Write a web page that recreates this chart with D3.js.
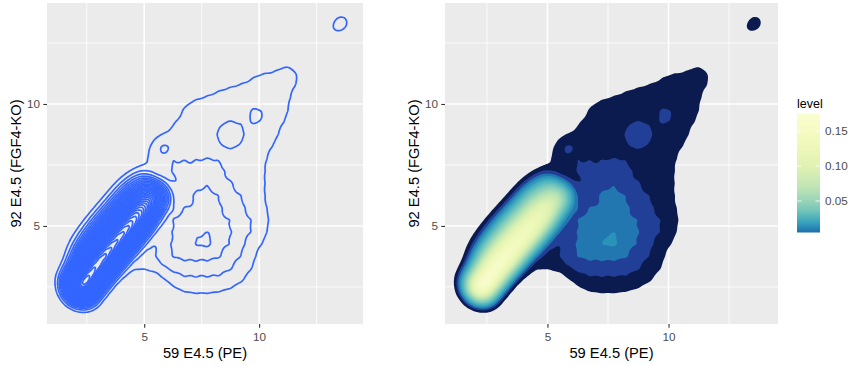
<!DOCTYPE html>
<html>
<head>
<meta charset="utf-8">
<script src="https://cdn.jsdelivr.net/npm/d3@7"></script>
<style>
body{margin:0;background:#fff;}
text{font-family:"Liberation Sans",Arial,Helvetica,sans-serif;}
</style>
</head>
<body>
<svg id="chart" width="851" height="366"></svg>
<script>
// axis ranges and ticks
var xDomain = [0.77, 14.52];
var yDomain = [0.98, 14.14];
var majorTicks = [5, 10];
var minorTicks = [2.5, 7.5, 12.5];
var xLabel = "59 E4.5 (PE)";
var yLabel = "92 E4.5 (FGF4-KO)";

// contour levels (density of cells)
var levels = [0.005,0.010,0.015,0.020,0.025,0.030,0.035,0.040,0.045,0.050,
              0.055,0.060,0.065,0.070,0.075,0.080,0.085,0.090,0.095,0.100,
              0.105,0.110,0.115,0.120,0.125,0.130,0.135,0.140,0.145,0.150,
              0.155,0.160,0.165,0.170,0.175];
var legendTicks = [0.05, 0.10, 0.15];

var ridgeA = [[2.28,2.21,0.039],[2.54,2.52,0.0356],[2.81,2.82,0.0338],[3.07,3.13,0.0328],[3.34,3.44,0.0319],[3.60,3.74,0.0309],[3.87,4.05,0.0299],
              [4.13,4.36,0.0289],[4.40,4.66,0.0281],[4.66,4.97,0.027],[4.93,5.28,0.0252],[5.19,5.58,0.0225],[5.45,5.89,0.019],[5.72,6.20,0.016]];
var ridgeB = [[1.97,2.48,0.039],[2.23,2.79,0.0356],[2.50,3.09,0.0338],[2.76,3.40,0.0328],[3.03,3.71,0.0319],[3.29,4.01,0.0309],[3.56,4.32,0.0299],
              [3.82,4.63,0.0289],[4.09,4.93,0.0281],[4.35,5.24,0.027],[4.62,5.55,0.0252],[4.88,5.85,0.0225],[5.14,6.16,0.019],[5.41,6.47,0.016]];
var ridgeC = [[1.64,2.76,0.0058],[1.90,3.07,0.0088],[2.17,3.37,0.0134],[2.43,3.68,0.0178],[2.70,3.99,0.0189],[2.96,4.29,0.0184],[3.23,4.60,0.0177],
              [3.49,4.91,0.0172],[3.76,5.21,0.0166],[4.02,5.52,0.0161],[4.29,5.83,0.0154],[4.55,6.13,0.0145],[4.81,6.44,0.0105],[5.08,6.75,0.009]];
var ridgeD = [[1.87,3.63,0.0015],[2.13,3.94,0.003],[2.40,4.25,0.0043],[2.66,4.55,0.0056],[2.93,4.86,0.0067],[3.19,5.17,0.0065],
              [3.46,5.47,0.0063],[3.72,5.78,0.0061],[3.99,6.09,0.0059],[4.25,6.39,0.0057],[4.51,6.70,0.0042],[4.78,7.01,0.0029]];
// faint edges of the diagonal population
var ridgeE = [[1.89,4.15,0.001],[2.16,4.46,0.0012],[2.42,4.76,0.0014],[2.69,5.07,0.0014],[2.95,5.38,0.0013],
              [3.21,5.68,0.0013],[3.48,5.99,0.0012],[3.74,6.30,0.0011],[4.01,6.60,0.001],[4.27,6.91,0.0009]];
var ridgeF = [[2.53,1.99,0.004],[2.79,2.30,0.0038],[3.06,2.60,0.0036],[3.32,2.91,0.0035],[3.59,3.22,0.0034],
              [3.85,3.52,0.0033],[4.12,3.83,0.0032],[4.38,4.14,0.0031],[4.65,4.44,0.003],[4.91,4.75,0.0029],[5.18,5.06,0.0028]];

// small isolated patches [x, y, mass]
var spots = [[5.74,8.29,0.003],[6.72,8.75,0.0015],[11.35,11.42,0.0012],
             [13.2,12.9,0.0012],[13.42,13.25,0.0025],[13.72,13.42,0.0025],
             [9.85,9.65,0.0013],[9.9,9.38,0.0013],[10.6,10.37,0.001],[8.75,8.7,0.001],[7.6,4.45,0.0028]];

// spread-out population: local level per 0.5 cell (digit * 0.0025), x 4..12, y 12 down to 2
var gridX0 = 4.0, gridY0 = 12.0, gridStep = 0.5, gridUnit = 0.0025;
var lowGrid = [
  "00000000000000000",
  "00000000000011210",
  "00000000001233331",
  "00000001233333320",
  "00000133333333310",
  "00000233333333310",
  "00001333355333200",
  "00013333355333100",
  "00133333333332000",
  "00234545543331000",
  "00003555543331000",
  "00000457654331000",
  "00000567755331000",
  "00005766765432000",
  "00045776775532000",
  "00335777775431000",
  "02346777765320000",
  "02345666654310000",
  "12113444443210000",
  "00001333332100000",
  "00000011100000000"
];

var fillLevels = [0.005, 0.01, 0.015, 0.02, 0.03, 0.05, 0.08, 0.11, 0.14, 0.175];
var fillColors = ["#0b1b4f","#223f98","#2277b1","#2b92b9","#45aebf","#7ccabb","#b9e3b4","#def2b2","#eef8b8","#f8fcca"];
var legendLevels = [0.005, 0.01, 0.02, 0.035, 0.05, 0.07, 0.10, 0.13, 0.15, 0.175];
var legendColors = ["#1f6aad","#2582b5","#39a3bc","#6fc3ba","#99d4b8","#c0e5b5","#e0f2b3","#eff8ba","#f5fbc3","#fafdd0"];

var points = [];
[ridgeA, ridgeB, ridgeC, ridgeD, ridgeE, ridgeF, spots].forEach(function(list){
    list.forEach(d => points.push({x:d[0], y:d[1], m:d[2]}));
});
lowGrid.forEach(function(row, i){
    row.split("").forEach(function(c, j){
        if(+c > 0) points.push({x: gridX0 + j*gridStep, y: gridY0 - i*gridStep, m: +c*gridUnit*gridStep*gridStep});
    });
});

var bandwidth = 0.33; // data units
var panelTop = 3, panelBottom = 324;
var fillColor = d3.scaleLinear().domain(fillLevels).range(fillColors);
var svg = d3.select("#chart");
var defs = svg.append("defs");

function drawPanel(left, width, filled, id){
    var height = panelBottom - panelTop;
    var x = d3.scaleLinear().domain(xDomain).range([left, left + width]);
    var y = d3.scaleLinear().domain(yDomain).range([panelBottom, panelTop]);

    defs.append("clipPath").attr("id", "clip" + id)
        .append("rect").attr("x", left).attr("y", panelTop).attr("width", width).attr("height", height);

    svg.append("rect")
        .attr("x", left).attr("y", panelTop)
        .attr("width", width).attr("height", height)
        .attr("fill", "#ebebeb");

    //grid lines
    var grid = svg.append("g").attr("stroke", "#fff");
    minorTicks.forEach(function(t){
        grid.append("line").attr("x1", x(t)).attr("x2", x(t)).attr("y1", panelTop).attr("y2", panelBottom).attr("stroke-width", 0.8);
        grid.append("line").attr("y1", y(t)).attr("y2", y(t)).attr("x1", left).attr("x2", left + width).attr("stroke-width", 0.8);
    });
    majorTicks.forEach(function(t){
        grid.append("line").attr("x1", x(t)).attr("x2", x(t)).attr("y1", panelTop).attr("y2", panelBottom).attr("stroke-width", 1.6);
        grid.append("line").attr("y1", y(t)).attr("y2", y(t)).attr("x1", left).attr("x2", left + width).attr("stroke-width", 1.6);
    });

    //density
    var kx = width / (xDomain[1] - xDomain[0]);
    var ky = height / (yDomain[1] - yDomain[0]);
    var density = d3.contourDensity()
        .x(d => x(d.x) - left)
        .y(d => y(d.y) - panelTop)
        .weight(d => d.m)
        .size([width, height])
        .cellSize(1)
        .bandwidth(bandwidth * Math.sqrt(kx * ky));
    var shapes;
    if (typeof density.contours === "function") {
        var contour = density.contours(points);
        shapes = levels.filter(l => l / (kx * ky) <= contour.max)
            .map(l => { var c = contour(l / (kx * ky)); c.level = l; return c; });
    } else {
        shapes = density.thresholds(levels.map(l => l / (kx * ky)))(points);
        shapes.forEach((c, i) => c.level = levels[i]);
    }

    var path = d3.geoPath();
    var layer = svg.append("g")
        .attr("clip-path", "url(#clip" + id + ")")
        .append("g")
        .attr("transform", "translate(" + left + "," + panelTop + ")");
    layer.selectAll("path")
        .data(shapes)
        .enter()
        .append("path")
        .attr("d", path)
        .attr("fill", d => filled ? fillColor(d.level) : "none")
        .attr("stroke", filled ? "none" : "#3366ff")
        .attr("stroke-width", 1.7)
        .attr("stroke-linejoin", "round");

    //axis
    var xAxis = svg.append("g")
        .attr("transform", "translate(0," + panelBottom + ")")
        .call(d3.axisBottom(x).tickValues(majorTicks).tickSize(3.7).tickPadding(5).tickFormat(d3.format("d")));
    var yAxis = svg.append("g")
        .attr("transform", "translate(" + left + ",0)")
        .call(d3.axisLeft(y).tickValues(majorTicks).tickSize(3.7).tickPadding(3.3).tickFormat(d3.format("d")));
    [xAxis, yAxis].forEach(function(a){
        a.select(".domain").remove();
        a.selectAll(".tick line").attr("stroke", "#333").attr("stroke-width", 1.1);
        a.selectAll(".tick text").attr("fill", "#4d4d4d").style("font-size", "11.7px")
            .style("font-family", "'Liberation Sans', Arial, sans-serif");
    });

    svg.append("text")
        .attr("x", left + width / 2).attr("y", 358)
        .style("text-anchor", "middle")
        .style("font-size", "14.7px")
        .text(xLabel);
    svg.append("text")
        .attr("transform", "translate(" + (left - 26) + "," + ((panelTop + panelBottom) / 2) + ") rotate(-90)")
        .style("text-anchor", "middle")
        .style("font-size", "14.7px")
        .text(yLabel);
}

drawPanel(47, 316, false, 0);
drawPanel(445, 333, true, 1);

//legend
var barX = 797, barW = 23;
var legendY = d3.scaleLinear().domain([levels[0], levels[levels.length - 1]]).range([232.5, 113.5]);
var grad = defs.append("linearGradient").attr("id", "lg")
    .attr("x1", 0).attr("y1", 1).attr("x2", 0).attr("y2", 0);
legendLevels.forEach(function(l, i){
    grad.append("stop")
        .attr("offset", (l - levels[0]) / (levels[levels.length - 1] - levels[0]))
        .attr("stop-color", legendColors[i]);
});
svg.append("rect")
    .attr("x", barX).attr("y", legendY.range()[1])
    .attr("width", barW).attr("height", legendY.range()[0] - legendY.range()[1])
    .attr("fill", "url(#lg)");
legendTicks.forEach(function(t){
    svg.append("line").attr("x1", barX).attr("x2", barX + barW / 5).attr("y1", legendY(t)).attr("y2", legendY(t))
        .attr("stroke", "#fff").attr("stroke-width", 0.8);
    svg.append("line").attr("x1", barX + barW * 4 / 5).attr("x2", barX + barW).attr("y1", legendY(t)).attr("y2", legendY(t))
        .attr("stroke", "#fff").attr("stroke-width", 0.8);
    svg.append("text")
        .attr("x", 825).attr("y", legendY(t)).attr("dy", "0.35em")
        .attr("fill", "#4d4d4d")
        .style("font-size", "11.7px")
        .text(d3.format(".2f")(t));
});
svg.append("text")
    .attr("x", barX).attr("y", 108)
    .style("font-size", "12.5px")
    .text("level");
</script>
</body>
</html>
